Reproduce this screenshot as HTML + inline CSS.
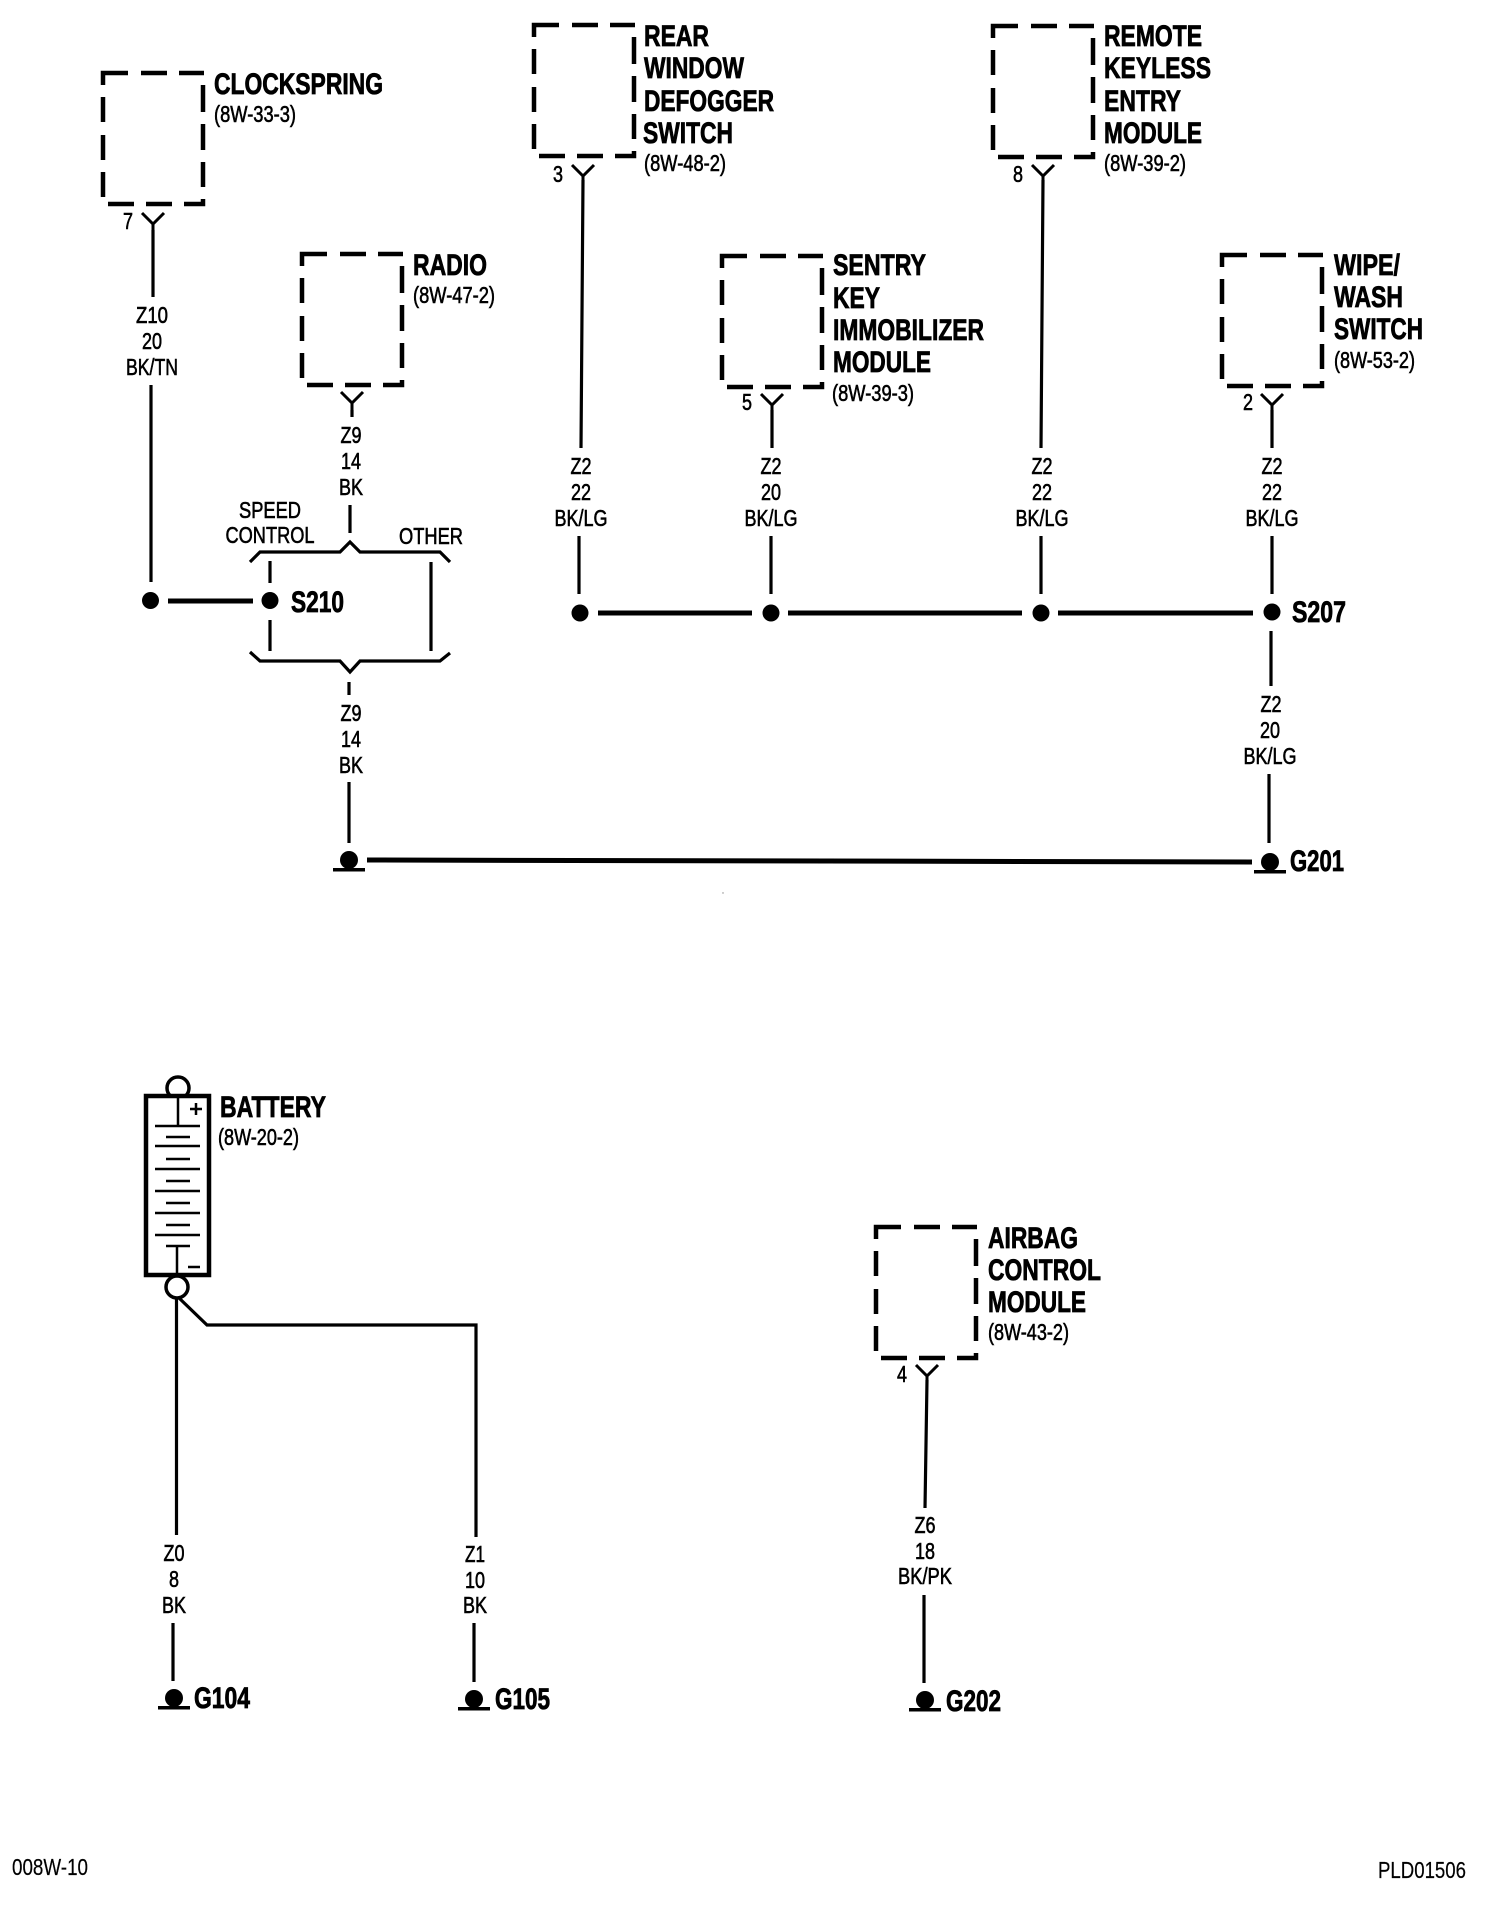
<!DOCTYPE html>
<html><head><meta charset="utf-8"><style>
html,body{margin:0;padding:0;background:#fff}
svg{display:block}
text{font-family:"Liberation Sans",sans-serif;fill:#000}
.t{font-weight:700;font-size:30px;stroke:#000;stroke-width:.8}
.s{font-size:23px;stroke:#000;stroke-width:.6}
.c{text-anchor:middle}
.f{font-size:23px;stroke:#000;stroke-width:.2}
.w{fill:none;stroke:#000;stroke-width:3.2}
.h{fill:none;stroke:#000;stroke-width:5}
.n{fill:none;stroke:#000;stroke-width:2.5}
</style></head><body>
<svg width="1504" height="1932" viewBox="0 0 1504 1932" xmlns="http://www.w3.org/2000/svg">
<rect width="1504" height="1932" fill="#fff"/>
<defs>
<path id="b" fill="none" stroke="#000" stroke-width="4.5" d="M0 12V0H25M38 0H64M76 0H101M100 12V39M100 51V77M100 89V114M5 131H31M43 131H69M81 131H100V126M0 24V49M0 62V87M0 99V124"/>
<path id="y" fill="none" stroke="#000" stroke-width="3" d="M-11 0L0 11L11 0M0 11V22"/>
<g id="g"><circle cx="0" cy="0" r="9" fill="#000"/><rect x="-16" y="8" width="32" height="3.5" fill="#000"/></g>
</defs>

<!-- boxes -->
<use href="#b" x="103" y="73"/>
<use href="#b" x="302" y="254"/>
<use href="#b" x="534" y="25"/>
<use href="#b" x="722" y="256"/>
<use href="#b" x="993" y="26"/>
<use href="#b" x="1222" y="255"/>
<use href="#b" x="876" y="1227"/>

<!-- connector Ys -->
<use href="#y" x="153" y="213"/>
<use href="#y" x="352" y="392"/>
<use href="#y" x="583" y="165"/>
<use href="#y" x="772" y="394"/>
<use href="#y" x="1043" y="165"/>
<use href="#y" x="1272" y="394"/>
<use href="#y" x="927" y="1365"/>

<!-- wires -->
<g class="w">
<path class="w" d="M153 230V297M151 385V582"/>
<path class="w" d="M352 410V417M350 505V533"/>
<path class="w" d="M270 561V583M270 620V651M431 562V651M349 682V695M349 782V843"/>
<path class="w" d="M250 562L260 552H340L350 542L360 552H440L450 562"/>
<path class="w" d="M250 652L260 661H340L350 672L360 661H440L450 653"/>
<path class="w" d="M583 180L581 448M579 536V594"/>
<path class="w" d="M772 410V448M771 536V594"/>
<path class="w" d="M1043 180L1041 448M1041 536V594"/>
<path class="w" d="M1272 410V448M1272 536V594M1271 631V686M1269 774V843"/>
<path class="w" d="M176.500 1298V1535M173 1623V1681"/>
<path class="w" d="M178 1297L207 1325H476V1537M474 1623V1682"/>
<path class="w" d="M927 1380L925 1508M924 1595V1683"/>
</g>
<g class="h">
<path class="h" d="M168 601H253"/>
<path class="h" d="M598 613H752M788 613H1022M1058 613H1253"/>
<path class="h" d="M367 860L1252 862"/>
</g>

<!-- dots -->
<g fill="#000">
<circle cx="150.500" cy="600.500" r="8.500"/>
<circle cx="270" cy="600.500" r="8.500"/>
<circle cx="580" cy="613" r="8.500"/>
<circle cx="771" cy="613" r="8.500"/>
<circle cx="1041" cy="613" r="8.500"/>
<circle cx="1272" cy="612" r="8.500"/>
<circle cx="723" cy="893" r=".7" fill="#888"/>
</g>

<!-- grounds -->
<use href="#g" x="349" y="860"/>
<use href="#g" x="1270" y="862"/>
<use href="#g" x="174" y="1698"/>
<use href="#g" x="474" y="1699"/>
<use href="#g" x="925" y="1700"/>

<!-- battery -->
<circle cx="178" cy="1088" r="11" fill="none" stroke="#000" stroke-width="3.500"/>
<circle cx="177" cy="1287" r="11" fill="none" stroke="#000" stroke-width="3.500"/>
<rect x="146" y="1096" width="63" height="179" fill="#fff" stroke="#000" stroke-width="4.500"/>
<path class="n" d="M178 1096V1125M155 1126H200M166 1137H190M155 1146H200M166 1159H190M155 1169H200M166 1181H190M155 1191H200M166 1203H190M155 1213H200M166 1225H190M155 1235H200M166 1246H190M177 1246V1275"/>
<path fill="none" stroke="#000" stroke-width="2.500" d="M190 1109H202M196 1103V1115M188 1267H200"/>

<!-- titles -->
<g class="t">
<text x="214" y="94" textLength="169" lengthAdjust="spacingAndGlyphs">CLOCKSPRING</text>
<text x="413" y="275" textLength="74" lengthAdjust="spacingAndGlyphs">RADIO</text>
<text x="644" y="46" textLength="65" lengthAdjust="spacingAndGlyphs">REAR</text>
<text x="644" y="78" textLength="100" lengthAdjust="spacingAndGlyphs">WINDOW</text>
<text x="644" y="111" textLength="130" lengthAdjust="spacingAndGlyphs">DEFOGGER</text>
<text x="643" y="143" textLength="90" lengthAdjust="spacingAndGlyphs">SWITCH</text>
<text x="833" y="275" textLength="93" lengthAdjust="spacingAndGlyphs">SENTRY</text>
<text x="833" y="308" textLength="47" lengthAdjust="spacingAndGlyphs">KEY</text>
<text x="833" y="340" textLength="151" lengthAdjust="spacingAndGlyphs">IMMOBILIZER</text>
<text x="833" y="372" textLength="98" lengthAdjust="spacingAndGlyphs">MODULE</text>
<text x="1104" y="46" textLength="98" lengthAdjust="spacingAndGlyphs">REMOTE</text>
<text x="1104" y="78" textLength="107" lengthAdjust="spacingAndGlyphs">KEYLESS</text>
<text x="1104" y="111" textLength="77" lengthAdjust="spacingAndGlyphs">ENTRY</text>
<text x="1104" y="143" textLength="98" lengthAdjust="spacingAndGlyphs">MODULE</text>
<text x="1334" y="275" textLength="66" lengthAdjust="spacingAndGlyphs">WIPE/</text>
<text x="1334" y="307" textLength="69" lengthAdjust="spacingAndGlyphs">WASH</text>
<text x="1334" y="339" textLength="89" lengthAdjust="spacingAndGlyphs">SWITCH</text>
<text x="220" y="1117" textLength="106" lengthAdjust="spacingAndGlyphs">BATTERY</text>
<text x="988" y="1248" textLength="90" lengthAdjust="spacingAndGlyphs">AIRBAG</text>
<text x="988" y="1280" textLength="113" lengthAdjust="spacingAndGlyphs">CONTROL</text>
<text x="988" y="1312" textLength="98" lengthAdjust="spacingAndGlyphs">MODULE</text>
<text x="291" y="612" textLength="53" lengthAdjust="spacingAndGlyphs">S210</text>
<text x="1292" y="622" textLength="54" lengthAdjust="spacingAndGlyphs">S207</text>
<text x="1290" y="871" textLength="54" lengthAdjust="spacingAndGlyphs">G201</text>
<text x="194" y="1708" textLength="56" lengthAdjust="spacingAndGlyphs">G104</text>
<text x="495" y="1709" textLength="55" lengthAdjust="spacingAndGlyphs">G105</text>
<text x="946" y="1711" textLength="55" lengthAdjust="spacingAndGlyphs">G202</text>
</g>

<!-- refs -->
<g class="s">
<text x="214" y="122" textLength="82" lengthAdjust="spacingAndGlyphs">(8W-33-3)</text>
<text x="413" y="303" textLength="82" lengthAdjust="spacingAndGlyphs">(8W-47-2)</text>
<text x="644" y="171" textLength="82" lengthAdjust="spacingAndGlyphs">(8W-48-2)</text>
<text x="832" y="401" textLength="82" lengthAdjust="spacingAndGlyphs">(8W-39-3)</text>
<text x="1104" y="171" textLength="82" lengthAdjust="spacingAndGlyphs">(8W-39-2)</text>
<text x="1334" y="368" textLength="81" lengthAdjust="spacingAndGlyphs">(8W-53-2)</text>
<text x="218" y="1145" textLength="81" lengthAdjust="spacingAndGlyphs">(8W-20-2)</text>
<text x="988" y="1340" textLength="81" lengthAdjust="spacingAndGlyphs">(8W-43-2)</text>
</g>

<!-- pins and wire labels -->
<g class="s c">
<text x="128" y="229" textLength="10" lengthAdjust="spacingAndGlyphs">7</text>
<text x="558" y="182" textLength="10" lengthAdjust="spacingAndGlyphs">3</text>
<text x="747" y="410" textLength="10" lengthAdjust="spacingAndGlyphs">5</text>
<text x="1018" y="182" textLength="10" lengthAdjust="spacingAndGlyphs">8</text>
<text x="1248" y="410" textLength="10" lengthAdjust="spacingAndGlyphs">2</text>
<text x="902" y="1382" textLength="10" lengthAdjust="spacingAndGlyphs">4</text>

<text x="152" y="323" textLength="32" lengthAdjust="spacingAndGlyphs">Z10</text>
<text x="152" y="349" textLength="20" lengthAdjust="spacingAndGlyphs">20</text>
<text x="152" y="375" textLength="52" lengthAdjust="spacingAndGlyphs">BK/TN</text>

<text x="351" y="443" textLength="21" lengthAdjust="spacingAndGlyphs">Z9</text>
<text x="351" y="469" textLength="20" lengthAdjust="spacingAndGlyphs">14</text>
<text x="351" y="495" textLength="24" lengthAdjust="spacingAndGlyphs">BK</text>

<text x="270" y="518" textLength="62" lengthAdjust="spacingAndGlyphs">SPEED</text>
<text x="270" y="543" textLength="89" lengthAdjust="spacingAndGlyphs">CONTROL</text>
<text x="431" y="544" textLength="64" lengthAdjust="spacingAndGlyphs">OTHER</text>

<text x="351" y="721" textLength="21" lengthAdjust="spacingAndGlyphs">Z9</text>
<text x="351" y="747" textLength="20" lengthAdjust="spacingAndGlyphs">14</text>
<text x="351" y="773" textLength="24" lengthAdjust="spacingAndGlyphs">BK</text>

<text x="581" y="474" textLength="21" lengthAdjust="spacingAndGlyphs">Z2</text>
<text x="581" y="500" textLength="20" lengthAdjust="spacingAndGlyphs">22</text>
<text x="581" y="526" textLength="53" lengthAdjust="spacingAndGlyphs">BK/LG</text>

<text x="771" y="474" textLength="21" lengthAdjust="spacingAndGlyphs">Z2</text>
<text x="771" y="500" textLength="20" lengthAdjust="spacingAndGlyphs">20</text>
<text x="771" y="526" textLength="53" lengthAdjust="spacingAndGlyphs">BK/LG</text>

<text x="1042" y="474" textLength="21" lengthAdjust="spacingAndGlyphs">Z2</text>
<text x="1042" y="500" textLength="20" lengthAdjust="spacingAndGlyphs">22</text>
<text x="1042" y="526" textLength="53" lengthAdjust="spacingAndGlyphs">BK/LG</text>

<text x="1272" y="474" textLength="21" lengthAdjust="spacingAndGlyphs">Z2</text>
<text x="1272" y="500" textLength="20" lengthAdjust="spacingAndGlyphs">22</text>
<text x="1272" y="526" textLength="53" lengthAdjust="spacingAndGlyphs">BK/LG</text>

<text x="1271" y="712" textLength="21" lengthAdjust="spacingAndGlyphs">Z2</text>
<text x="1270" y="738" textLength="20" lengthAdjust="spacingAndGlyphs">20</text>
<text x="1270" y="764" textLength="53" lengthAdjust="spacingAndGlyphs">BK/LG</text>

<text x="174" y="1561" textLength="21" lengthAdjust="spacingAndGlyphs">Z0</text>
<text x="174" y="1587" textLength="10" lengthAdjust="spacingAndGlyphs">8</text>
<text x="174" y="1613" textLength="24" lengthAdjust="spacingAndGlyphs">BK</text>

<text x="475" y="1562" textLength="20" lengthAdjust="spacingAndGlyphs">Z1</text>
<text x="475" y="1588" textLength="20" lengthAdjust="spacingAndGlyphs">10</text>
<text x="475" y="1613" textLength="24" lengthAdjust="spacingAndGlyphs">BK</text>

<text x="925" y="1533" textLength="21" lengthAdjust="spacingAndGlyphs">Z6</text>
<text x="925" y="1559" textLength="20" lengthAdjust="spacingAndGlyphs">18</text>
<text x="925" y="1584" textLength="54" lengthAdjust="spacingAndGlyphs">BK/PK</text>
</g>

<text class="f" x="12" y="1875" textLength="76" lengthAdjust="spacingAndGlyphs">008W-10</text>
<text class="f" x="1378" y="1878" textLength="88" lengthAdjust="spacingAndGlyphs">PLD01506</text>
</svg>
</body></html>
